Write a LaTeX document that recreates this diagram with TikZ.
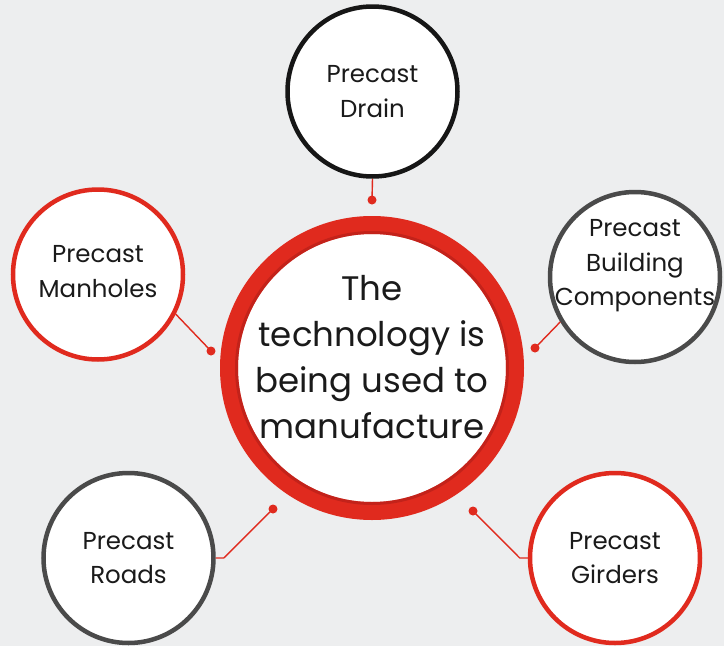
\documentclass[tikz,border=0pt]{standalone}
\usepackage{fontspec}
\setmainfont{Poppins}
\usetikzlibrary{positioning}
\definecolor{ringred}{RGB}{224,42,30}
\definecolor{deepred}{RGB}{176,30,24}
\definecolor{rimgray}{RGB}{74,74,74}
\definecolor{rimblack}{RGB}{22,22,22}
\definecolor{bggray}{RGB}{237,238,239}
\definecolor{inkc}{RGB}{26,26,26}
\tikzset{item/.style={circle, fill=white, line width=4.5pt, minimum size=170pt, inner sep=0pt},
  itemtext/.style={align=center, text=inkc, font=\fontsize{24.5}{34.5}\selectfont},
  link/.style={ringred, line width=1.4pt},
  dot/.style={circle, fill=ringred, inner sep=0pt, minimum size=9pt}}

\begin{document}
\begin{tikzpicture}[x=1pt,y=-1pt]
   \fill[bggray] (0,0) rectangle (724,646);
   \useasboundingbox (0,0) rectangle (724,646);

   % centre
   \node[circle, draw=ringred, line width=18pt, fill=white, minimum size=286pt, inner sep=0pt] (core) at (372,368) {};
   \draw[deepred, line width=3pt, opacity=0.6] (core.center) circle[radius=135.5pt];
   \node[align=center, text=inkc, font=\fontsize{34}{46}\selectfont] (coretxt) at (372,357)
     {The\\technology is\\being used to\\manufacture};

   % outer circles
   \node[item, draw=rimblack] (drain) at (372.5,91.5) {};
   \node[itemtext] (draintxt) at (drain) {Precast\\Drain};
   \node[item, draw=ringred] (manh) at (98,274.5) {};
   \node[itemtext] (manhtxt) at ([yshift=3pt]manh.center) {Precast\\Manholes};
   \node[item, draw=rimgray] (bldg) at (635,277) {};
   \node[itemtext] (bldgtxt) at ([yshift=11pt]bldg.center) {Precast\\Building\\Components};
   \node[item, draw=rimgray] (roads) at (128.5,558) {};
   \node[itemtext] (roadstxt) at (roads) {Precast\\Roads};
   \node[item, draw=ringred] (gird) at (615,558) {};
   \node[itemtext] (girdtxt) at (gird) {Precast\\Girders};

   % dots
   \node[dot] (d1) at (372,200) {};
   \node[dot] (d2) at (211,351) {};
   \node[dot] (d3) at (535,348) {};
   \node[dot] (d4) at (273,509) {};
   \node[dot] (d5) at (473,511) {};

   % links
   \draw[link] (drain.south) -- (d1.center);
   \draw[link] (manh.-27) -- (d2.center);
   \draw[link] (bldg.-149) -- (d3.center);
   \draw[link] (roads.east) -- ++(8,0) -- (d4.center);
   \draw[link] (gird.west) -- ++(-8,0) -- (d5.center);
\end{tikzpicture}
\end{document}
